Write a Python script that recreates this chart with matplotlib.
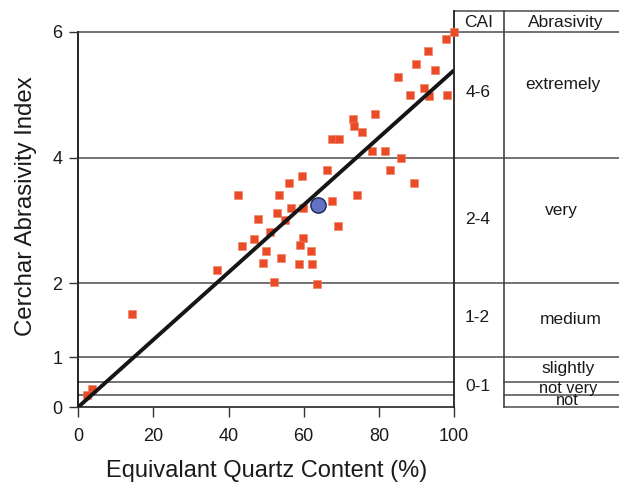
import numpy as np
import matplotlib
matplotlib.use("Agg")
import matplotlib.pyplot as plt

plt.rcParams['font.family'] = ['Liberation Sans', 'DejaVu Sans']

# ---- data ----
quartz = [100.0, 97.9, 93.1, 90.0, 94.9, 85.0, 92.1, 93.3, 88.2, 98.1,
          79.0, 73.0, 73.4, 75.6, 67.4, 69.5, 78.3, 81.6, 86.0, 83.0,
          89.4, 66.3, 59.5, 56.1, 42.5, 53.5, 74.2, 67.6, 56.7, 59.9,
          52.9, 47.9, 55.0, 69.1, 51.0, 46.8, 59.7, 43.6, 59.1, 50.0,
          61.9, 54.0, 49.2, 58.8, 62.3, 52.0, 63.5, 36.8, 14.2, 3.6, 2.4]
cai = [6.00, 5.89, 5.70, 5.49, 5.40, 5.29, 5.10, 4.98, 5.00, 5.00,
       4.70, 4.61, 4.50, 4.40, 4.30, 4.29, 4.10, 4.10, 4.00, 3.80,
       3.60, 3.80, 3.70, 3.60, 3.40, 3.41, 3.40, 3.30, 3.20, 3.20,
       3.11, 3.02, 3.00, 2.91, 2.81, 2.70, 2.71, 2.59, 2.60, 2.51,
       2.51, 2.40, 2.32, 2.31, 2.31, 2.02, 1.98, 2.21, 1.58, 0.37, 0.24]
mean_point = (63.8, 3.24)
fit_x = [0, 100]
fit_y = [0.0, 5.39]

xticks = [0, 20, 40, 60, 80, 100]
yticks = [0, 1, 2, 4, 6]
cai_ranges = ["4-6", "2-4", "1-2", "0-1"]
cai_range_y = [4.959, 2.940, 1.469, 0.326]
abras_labels = ["extremely", "very", "medium", "slightly", "not very", "not"]
abras_x = [129.0, 128.7, 131.1, 130.3, 130.3, 130.1]
abras_y = [5.087, 3.084, 1.446, 0.674, 0.286, 0.045]
abras_size = [12.5, 12.5, 12.5, 12.5, 11.8, 11.8]

# piecewise axis scale (as in the original figure)
KY = np.array([-1.0, 0.0, 1.0, 2.0, 6.0, 10.0])
KP = np.array([-50.0, 0.0, 50.0, 124.0, 375.0, 626.0])
def fwd(y):
    return np.interp(y, KY, KP)
def inv(p):
    return np.interp(p, KP, KY)

fig = plt.figure(figsize=(6.19, 4.82), dpi=100)
ax = fig.add_axes([78.3/619, 75/482, (454-78.3)/619, 375/482])
ax.set_yscale('function', functions=(fwd, inv))
ax.set_xlim(0, 100)
ax.set_ylim(0, 6)
for s in ax.spines.values():
    s.set_visible(False)

XR = 144.0      # right edge of the table
XC = 113.4      # boundary between CAI and Abrasivity columns
YTOP = 6.339    # top of table header
gc = '#5a5a5a'
lw = 1.2

# horizontal lines
for yb in [1, 2, 4, 6]:
    ax.plot([0, XR], [yb, yb], color=gc, lw=lw, clip_on=False, zorder=1)
for yb in [0, 0.25, 0.5]:
    ax.plot([0, 100], [yb, yb], color=gc if yb else '#222222', lw=lw, clip_on=False, zorder=1)
    ax.plot([XC, XR], [yb, yb], color=gc, lw=lw, clip_on=False, zorder=1)
ax.plot([100, XR], [YTOP, YTOP], color=gc, lw=lw, clip_on=False, zorder=1)
# verticals
ax.plot([0, 0], [0, 6], color='#111111', lw=1.3, clip_on=False, zorder=1)
ax.plot([100, 100], [0, YTOP], color='#222222', lw=1.3, clip_on=False, zorder=1)
ax.plot([XC, XC], [0, YTOP], color='#444444', lw=1.2, clip_on=False, zorder=1)

# data
ax.plot(quartz, cai, linestyle='none', marker='s', ms=5.8,
        color='#ea4a26', mec='#f08060', mew=0.4, zorder=3, clip_on=False)
ax.plot(fit_x, fit_y, color='#151515', lw=2.8, zorder=4, solid_capstyle='butt')
ax.plot([mean_point[0]], [mean_point[1]], marker='o', ms=11,
        mfc='#6272c4', mec='#1c2550', mew=1.0, zorder=5)

# ticks
ax.set_xticks(xticks)
ax.set_yticks(yticks)
ax.set_xticklabels([str(v) for v in xticks])
ax.set_yticklabels([str(v) for v in yticks])
ax.tick_params(axis='x', direction='out', length=7, width=1.0, color='#333333',
               pad=8, labelsize=13, labelcolor='#1a1a1a')
ax.tick_params(axis='y', direction='out', length=6.3, width=1.0, color='#333333',
               pad=5, labelsize=13, labelcolor='#1a1a1a')
ax.minorticks_off()

ax.set_xlabel("Equivalant Quartz Content (%)", fontsize=17, color='#1a1a1a')
ax.xaxis.set_label_coords(0.5, -0.141)
ax.set_ylabel("Cerchar Abrasivity Index", fontsize=17.3, color='#1a1a1a')
ax.yaxis.set_label_coords(-0.111, 0.536)

# table text
tk = dict(color='#1a1a1a', ha='center', va='baseline', clip_on=False)
ax.text(106.5, 6.084, "CAI", fontsize=12.5, **tk)
ax.text(129.8, 6.084, "Abrasivity", fontsize=12.5, **tk)
for lab, yy in zip(cai_ranges, cai_range_y):
    ax.text(106.3, yy, lab, fontsize=12.5, **tk)
for lab, xx, yy, fs in zip(abras_labels, abras_x, abras_y, abras_size):
    ax.text(xx, yy, lab, fontsize=fs, **tk)

fig.savefig("out.png", dpi=100)
